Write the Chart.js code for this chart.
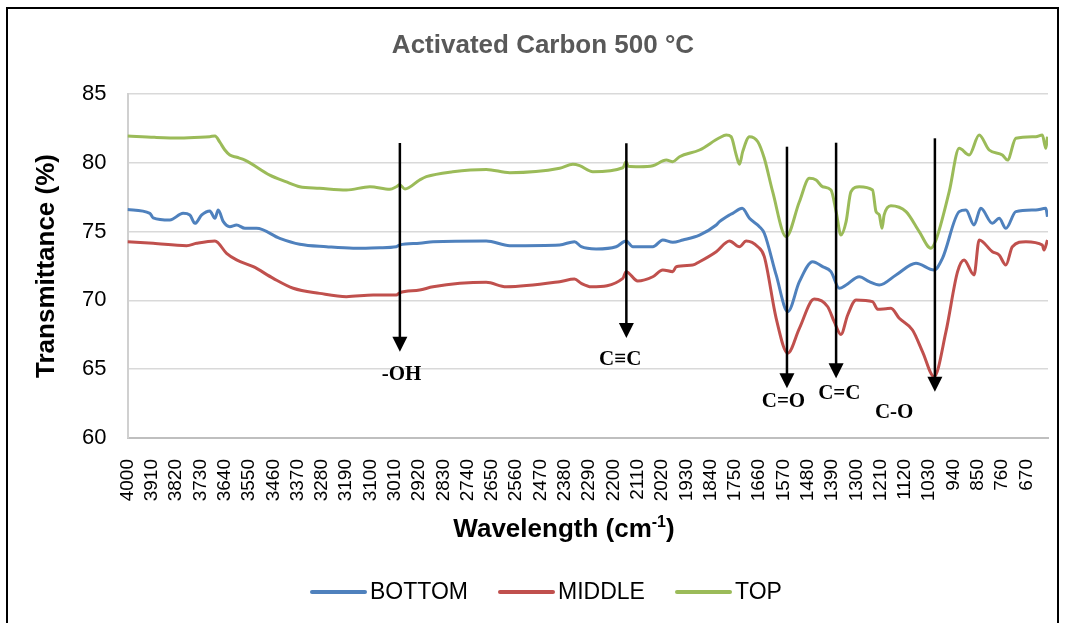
<!DOCTYPE html>
<html><head><meta charset="utf-8">
<script src="https://cdn.jsdelivr.net/npm/chart.js@4.4.1/dist/chart.umd.min.js"></script>
<style>html,body{margin:0;padding:0;background:#fff}canvas{display:block}</style>
</head><body>
<canvas id="c" width="1066" height="623"></canvas>
<script>
const chartTitle = 'Activated Carbon 500 °C';
const xAxisTitleParts = ['Wavelength (cm', '-1', ')'];
const yAxisTitle = 'Transmittance (%)';
const seriesNames = ['BOTTOM', 'MIDDLE', 'TOP'];
const seriesColors = ['#4f81bd', '#c0504d', '#9bbb59'];
const xTickLabels = [4000,3910,3820,3730,3640,3550,3460,3370,3280,3190,3100,3010,2920,2830,2740,2650,2560,2470,2380,2290,2200,2110,2020,1930,1840,1750,1660,1570,1480,1390,1300,1210,1120,1030,940,850,760,670];
const yMin = 60, yMax = 85, yStep = 5;
const xLeft = 4000, xRight = 590;

const bottomWn = [4000,3917,3905,3843,3794,3769,3750,3725,3695,3676,3664,3645,3621,3596,3565,3522,3436,3362,3263,3164,3066,3004,2992,2918,2868,2671,2584,2399,2344,2319,2264,2190,2153,2128,2054,2017,1980,1943,1881,1819,1807,1770,1758,1723,1696,1659,1641,1597,1554,1511,1462,1425,1394,1363,1338,1289,1252,1215,1153,1079,1012,981,919,894,864,839,796,771,746,709,635,598,592];
const bottomT  = [76.6,76.33,76.0,75.84,76.33,76.21,75.6,76.21,76.5,75.97,76.57,75.72,75.36,75.48,75.24,75.24,74.51,74.08,73.9,73.79,73.83,73.9,74.03,74.15,74.27,74.32,73.98,74.03,74.27,73.9,73.74,73.9,74.32,73.9,73.9,74.39,74.22,74.39,74.75,75.48,75.72,76.21,76.33,76.69,75.97,75.36,74.88,71.85,69.18,71.36,72.81,72.45,72.09,70.88,71.12,71.72,71.36,71.12,71.85,72.7,72.21,73.06,76.45,76.57,75.48,76.69,75.6,75.97,75.24,76.45,76.57,76.69,76.08];

const middleWn = [4000,3905,3781,3744,3676,3633,3596,3534,3460,3386,3288,3189,3090,3004,2992,2918,2868,2671,2597,2399,2344,2319,2282,2165,2153,2110,2054,2017,1980,1967,1906,1881,1819,1770,1733,1708,1665,1641,1597,1554,1511,1456,1406,1382,1357,1332,1301,1240,1221,1190,1172,1141,1092,1055,1012,968,925,901,864,845,796,771,746,722,672,611,605,592];
const middleT  = [74.27,74.15,73.98,74.15,74.32,73.42,72.94,72.45,71.6,70.88,70.51,70.27,70.39,70.39,70.55,70.75,70.99,71.31,70.99,71.36,71.55,71.24,70.99,71.6,72.09,71.41,71.72,72.21,72.09,72.45,72.57,72.81,73.54,74.32,73.9,74.32,73.9,73.18,68.7,66.16,67.97,70.1,69.54,68.45,67.53,68.94,70.03,69.91,69.35,69.4,69.43,68.7,67.85,66.28,64.46,67.73,72.09,72.94,71.85,74.39,73.54,73.3,72.57,73.9,74.27,74.03,73.66,74.39];

const topWn = [4000,3900,3806,3730,3695,3676,3658,3640,3621,3595,3565,3473,3414,3362,3288,3189,3102,3028,3004,2992,2972,2918,2893,2795,2671,2584,2399,2350,2325,2276,2165,2153,2145,2103,2054,2004,1980,1955,1881,1807,1782,1764,1745,1733,1721,1696,1665,1641,1610,1560,1511,1474,1449,1425,1394,1375,1357,1338,1320,1289,1240,1227,1215,1205,1197,1172,1116,1067,1024,1005,956,919,882,845,808,759,740,709,635,611,598,592];
const topT  = [81.95,81.85,81.8,81.85,81.9,81.95,81.5,80.95,80.57,80.4,80.2,79.11,78.63,78.26,78.15,78.02,78.26,78.07,78.26,78.4,78.1,78.75,78.99,79.35,79.52,79.28,79.6,79.89,79.79,79.35,79.64,80.08,79.75,79.72,79.79,80.2,80.08,80.44,80.93,81.82,82.02,81.9,80.57,79.89,80.81,81.9,81.53,80.33,77.9,74.63,77.17,78.87,78.75,78.26,78.02,76.45,74.75,75.72,77.9,78.26,78.02,76.45,76.21,75.24,76.21,76.88,76.45,75.0,73.79,74.39,77.9,81.05,80.57,82.02,80.93,80.57,80.2,81.78,81.9,82.02,81.05,81.9];

// band annotations: arrow at wavenumber, from/to transmittance, label position
const bandLabels = ['-OH', 'C\u2261C', 'C=O', 'C=C', 'C-O'];
const bandWn     = [2991, 2152, 1557, 1375, 1009];
const bandFrom   = [81.44, 81.42, 81.17, 81.46, 81.78];
const bandTo     = [66.27, 67.27, 63.61, 64.34, 63.36];
const bandLabelWn = [2985, 2175, 1570, 1363, 1160];
const bandLabelT  = [64.58, 65.72, 62.64, 63.2, 61.84];

const pts = (w, t) => w.map((v, i) => ({x: v, y: t[i]}));
const sans = '"Liberation Sans", Arial, sans-serif';

const decor = {
  id: 'decor',
  beforeDraw(chart) {
    const ctx = chart.ctx;
    ctx.save();
    ctx.fillStyle = '#fff';
    ctx.fillRect(0, 0, chart.width, chart.height);
    ctx.restore();
  },
  afterDraw(chart) {
    const {ctx, scales: {x, y}, chartArea} = chart;
    ctx.save();
    // frame
    ctx.strokeStyle = '#000'; ctx.lineWidth = 2;
    ctx.beginPath();
    ctx.moveTo(7, 640); ctx.lineTo(7, 8); ctx.lineTo(1058, 8); ctx.lineTo(1058, 640);
    ctx.stroke();
    // title
    ctx.fillStyle = '#595959';
    ctx.font = 'bold 26px ' + sans;
    ctx.textAlign = 'center'; ctx.textBaseline = 'middle';
    ctx.fillText(chartTitle, 543, 46);
    // y title
    ctx.fillStyle = '#000';
    ctx.save();
    ctx.translate(47, (chartArea.top + chartArea.bottom) / 2);
    ctx.rotate(-Math.PI / 2);
    ctx.fillText(yAxisTitle, 0, 0);
    ctx.restore();
    // x title with superscript
    ctx.textAlign = 'left'; ctx.textBaseline = 'alphabetic';
    const f1 = 'bold 26px ' + sans, f2 = 'bold 16px ' + sans;
    ctx.font = f1; const w1 = ctx.measureText(xAxisTitleParts[0]).width;
    const w3 = ctx.measureText(xAxisTitleParts[2]).width;
    ctx.font = f2; const w2 = ctx.measureText(xAxisTitleParts[1]).width;
    const total = w1 + w2 + w3;
    let tx = 564 - total / 2; const base = 537;
    ctx.font = f1; ctx.fillText(xAxisTitleParts[0], tx, base); tx += w1;
    ctx.font = f2; ctx.fillText(xAxisTitleParts[1], tx, base - 10); tx += w2;
    ctx.font = f1; ctx.fillText(xAxisTitleParts[2], tx, base);
    // arrows
    ctx.strokeStyle = '#000'; ctx.fillStyle = '#000'; ctx.lineWidth = 2.5;
    for (let i = 0; i < bandLabels.length; i++) {
      const px = x.getPixelForValue(bandWn[i]);
      const py1 = y.getPixelForValue(bandFrom[i]);
      const py2 = y.getPixelForValue(bandTo[i]);
      ctx.beginPath(); ctx.moveTo(px, py1); ctx.lineTo(px, py2 - 12); ctx.stroke();
      ctx.beginPath(); ctx.moveTo(px - 7.5, py2 - 15); ctx.lineTo(px + 7.5, py2 - 15); ctx.lineTo(px, py2); ctx.closePath(); ctx.fill();
      ctx.font = 'bold 21px "Liberation Serif", "Times New Roman", serif';
      ctx.textAlign = 'center'; ctx.textBaseline = 'middle';
      ctx.fillText(bandLabels[i], x.getPixelForValue(bandLabelWn[i]), y.getPixelForValue(bandLabelT[i]));
    }
    // legend
    const legX = [312, 500, 677];
    const ly = 592;
    ctx.font = '23px ' + sans; ctx.textAlign = 'left'; ctx.textBaseline = 'middle';
    ctx.lineCap = 'round';
    for (let i = 0; i < seriesNames.length; i++) {
      ctx.strokeStyle = seriesColors[i]; ctx.lineWidth = 4;
      ctx.beginPath(); ctx.moveTo(legX[i], ly); ctx.lineTo(legX[i] + 53, ly); ctx.stroke();
      ctx.fillStyle = '#000';
      ctx.fillText(seriesNames[i], legX[i] + 58, ly + 1);
    }
    ctx.restore();
  }
};

new Chart(document.getElementById('c'), {
  type: 'line',
  data: {
    datasets: [
      {label: seriesNames[0], data: pts(bottomWn, bottomT), borderColor: seriesColors[0]},
      {label: seriesNames[1], data: pts(middleWn, middleT), borderColor: seriesColors[1]},
      {label: seriesNames[2], data: pts(topWn, topT), borderColor: seriesColors[2]}
    ]
  },
  options: {
    responsive: false,
    animation: false,
    devicePixelRatio: 1,
    layout: {padding: {left: 0, right: 18, top: 94, bottom: 0}},
    elements: {
      line: {borderWidth: 3, cubicInterpolationMode: 'monotone', fill: false},
      point: {radius: 0}
    },
    plugins: {legend: {display: false}, title: {display: false}, tooltip: {enabled: false}},
    scales: {
      x: {
        type: 'linear', reverse: true, min: xRight, max: xLeft,
        afterBuildTicks: s => { s.ticks = xTickLabels.map(v => ({value: v})); },
        afterFit: s => { s.height = 185; },
        grid: {display: false},
        border: {display: true, color: '#bfbfbf', width: 2},
        ticks: {autoSkip: false, minRotation: 90, maxRotation: 90, padding: 13,
          color: '#000', font: {family: sans, size: 19}, callback: v => String(v)}
      },
      y: {
        min: yMin, max: yMax,
        afterFit: s => { s.width = 127.5; },
        grid: {color: '#d9d9d9', lineWidth: 1.5, drawTicks: false},
        border: {display: true, color: '#d0d0d0', width: 2},
        ticks: {stepSize: yStep, padding: 21, color: '#000', font: {family: sans, size: 22}}
      }
    }
  },
  plugins: [decor]
});
</script>
</body></html>
